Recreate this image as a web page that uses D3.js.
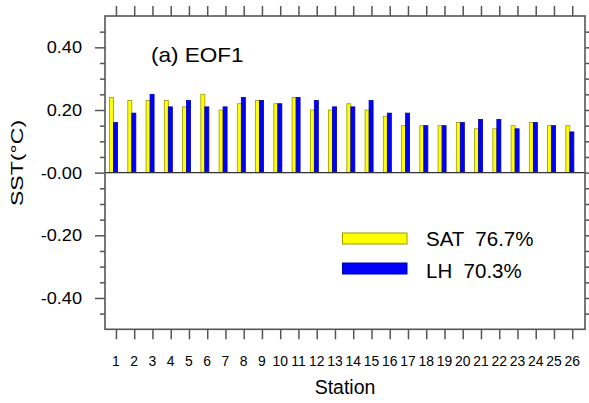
<!DOCTYPE html>
<html>
<head>
<meta charset="utf-8">
<script src="https://cdn.jsdelivr.net/npm/d3@7"></script>
<style>
  html, body { margin: 0; padding: 0; background: #fff; }
  svg { display: block; }
  text { font-family: "Liberation Sans", Arial, Helvetica, sans-serif; fill: #000; }
</style>
</head>
<body>
<svg id="chart" width="589" height="403"></svg>
<script>
// Station numbers along the x axis
const stations = d3.range(1, 27);

// EOF1 loadings per station
const satValues = [0.24, 0.23, 0.23, 0.23, 0.21, 0.25, 0.20, 0.22, 0.23, 0.22,
                   0.24, 0.20, 0.20, 0.22, 0.20, 0.18, 0.15, 0.15, 0.15, 0.16,
                   0.14, 0.14, 0.15, 0.16, 0.15, 0.15];
const lhValues  = [0.16, 0.19, 0.25, 0.21, 0.23, 0.21, 0.21, 0.24, 0.23, 0.22,
                   0.24, 0.23, 0.21, 0.21, 0.23, 0.19, 0.19, 0.15, 0.15, 0.16,
                   0.17, 0.17, 0.14, 0.16, 0.15, 0.13];

// Y axis ticks
const yMajorTicks = [-0.4, -0.2, 0, 0.2, 0.4];
const yTickLabels = ["-0.40", "-0.20", "-0.00", "0.20", "0.40"];
const yMinorTicks = d3.range(-45, 50, 5).map(v => v / 100).filter(v => Math.abs(Math.round(v * 100)) % 20 !== 0);

// Legend entries
const seriesNames = ["SAT  76.7%", "LH  70.3%"];
const seriesColors = ["#ffff00", "#0000ff"];
const seriesStrokes = ["#9a9a00", "#0000b0"];

const titleText = "(a) EOF1";
const xTitle = "Station";
const yTitle = "SST(\u00B0C)";

const svg = d3.select("#chart");
const plot = { left: 105, right: 585, top: 16, bottom: 329.3 };

const x = d3.scaleLinear().domain([0.4, 26.7]).range([plot.left, plot.right]);
const y = d3.scaleLinear().domain([-0.5, 0.5]).range([plot.bottom, plot.top]);

const axisColor = "#555";

// Bars: SAT just left of the station tick, LH straddling it
const barOffsets = [[-0.35, -0.13], [-0.13, 0.09]];
[satValues, lhValues].forEach((vals, si) => {
  svg.append("g").selectAll("rect")
    .data(vals)
    .join("rect")
    .attr("x", (d, i) => x(stations[i] + barOffsets[si][0]))
    .attr("width", (d, i) => x(stations[i] + barOffsets[si][1]) - x(stations[i] + barOffsets[si][0]))
    .attr("y", d => y(d))
    .attr("height", d => y(0) - y(d))
    .attr("fill", seriesColors[si])
    .attr("stroke", seriesStrokes[si])
    .attr("stroke-width", 0.8);
});

// Zero reference line
svg.append("line")
  .attr("x1", plot.left).attr("x2", plot.right)
  .attr("y1", y(0)).attr("y2", y(0))
  .attr("stroke", "#333").attr("stroke-width", 1.2);

// Axes with outward ticks on all four sides
const tickStyle = g => {
  g.selectAll(".domain").remove();
  g.selectAll("line").attr("stroke", axisColor).attr("stroke-width", 1.5);
};

svg.append("g").attr("transform", `translate(${plot.left},0)`)
  .call(d3.axisLeft(y).tickValues(yMajorTicks).tickSize(10).tickFormat(""))
  .call(tickStyle);
svg.append("g").attr("transform", `translate(${plot.left},0)`)
  .call(d3.axisLeft(y).tickValues(yMinorTicks).tickSize(5).tickFormat(""))
  .call(tickStyle);
svg.append("g").attr("transform", `translate(${plot.right},0)`)
  .call(d3.axisRight(y).tickValues(yMajorTicks).tickSize(10).tickFormat(""))
  .call(tickStyle);
svg.append("g").attr("transform", `translate(${plot.right},0)`)
  .call(d3.axisRight(y).tickValues(yMinorTicks).tickSize(5).tickFormat(""))
  .call(tickStyle);
svg.append("g").attr("transform", `translate(0,${plot.bottom})`)
  .call(d3.axisBottom(x).tickValues(stations).tickSize(10).tickFormat(""))
  .call(tickStyle);
svg.append("g").attr("transform", `translate(0,${plot.top})`)
  .call(d3.axisTop(x).tickValues(stations).tickSize(10).tickFormat(""))
  .call(tickStyle);

// Frame
svg.append("rect")
  .attr("x", plot.left).attr("y", plot.top)
  .attr("width", plot.right - plot.left).attr("height", plot.bottom - plot.top)
  .attr("fill", "none").attr("stroke", axisColor).attr("stroke-width", 1.6);

// Y tick labels
svg.append("g").selectAll("text")
  .data(yMajorTicks)
  .join("text")
  .attr("transform", d => `translate(82,${y(d) + 6}) scale(1.1,1)`)
  .attr("text-anchor", "end")
  .attr("font-size", 16.5)
  .text((d, i) => yTickLabels[i]);

// Station labels
svg.append("g").selectAll("text")
  .data(stations)
  .join("text")
  .attr("transform", d => `translate(${x(d)},365.5) scale(0.96,1)`)
  .attr("text-anchor", "middle")
  .attr("font-size", 14.5)
  .text(d => d);

// Axis titles
svg.append("text")
  .attr("transform", `translate(${(plot.left + plot.right) / 2},394)`)
  .attr("text-anchor", "middle")
  .attr("font-size", 19.5)
  .text(xTitle);

svg.append("text")
  .attr("transform", "translate(23,163) rotate(-90) scale(1.4,1)")
  .attr("text-anchor", "middle")
  .attr("font-size", 16.5)
  .text(yTitle);

// Panel title
svg.append("text")
  .attr("transform", "translate(151,62) scale(1.1,1)")
  .attr("font-size", 20.5)
  .text(titleText);

// Legend
const legendRows = [238.5, 268.5];
const legend = svg.append("g");
seriesNames.forEach((name, i) => {
  legend.append("rect")
    .attr("x", 342.5).attr("y", legendRows[i] - 5.5)
    .attr("width", 64.5).attr("height", 11)
    .attr("fill", seriesColors[i])
    .attr("stroke", seriesStrokes[i]).attr("stroke-width", 1);
  legend.append("text")
    .attr("x", 426).attr("y", legendRows[i] + 7.5 + i * 1.5)
    .attr("font-size", 20.5)
    .attr("xml:space", "preserve")
    .style("white-space", "pre")
    .text(name);
});
</script>
</body>
</html>
